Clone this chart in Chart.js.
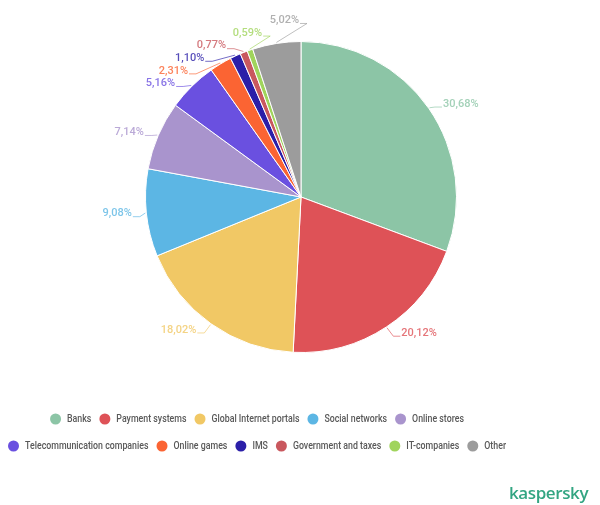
<!DOCTYPE html>
<html lang="en">
<head>
  <meta charset="UTF-8">
  <title>Phishing targets by category</title>
  <script src="https://cdn.jsdelivr.net/npm/chart.js"></script>
  <style>
    body {
      margin: 0;
      background: #fff;
    }
    #wrap {
      position: relative;
      width: 600px;
      height: 505px;
    }
    #logo {
      position: absolute;
      left: 509px;
      top: 481px;
      font-family: "Open Sans", sans-serif;
      font-weight: 600;
      font-size: 17px;
      color: #33a582;
      letter-spacing: -0.4px;
    }
  </style>
</head>
<body>
  <div id="wrap">
    <canvas id="pieChart" width="600" height="505"></canvas>
    <div id="logo">kaspersky</div>
  </div>

  <script>
    const labels = ['Banks', 'Payment systems', 'Global Internet portals', 'Social networks', 'Online stores',
      'Telecommunication companies', 'Online games', 'IMS', 'Government and taxes', 'IT-companies', 'Other'];
    const shares = [30.68, 20.12, 18.02, 9.08, 7.14, 5.16, 2.31, 1.10, 0.77, 0.59, 5.02];
    const colors = ['#8cc5a6', '#de5257', '#f1c865', '#5cb6e4', '#a994cd',
      '#6a50e0', '#fb6433', '#2b1fa8', '#c9585e', '#a0d45c', '#9c9c9c'];

    function fmt(v) {
      return v.toFixed(2).replace('.', ',') + '%';
    }

    // percentage labels outside the pie, with leader lines
    const outsideLabels = {
      id: 'outsideLabels',
      afterDatasetsDraw(chart) {
        const ctx = chart.ctx;
        const meta = chart.getDatasetMeta(0);
        const Ry = 163;
        const Rx = 168;
        const gap = 12.6;
        const items = meta.data.map((arc, i) => {
          const p = arc.getProps(['x', 'y', 'startAngle', 'endAngle', 'outerRadius'], true);
          const mid = (p.startAngle + p.endAngle) / 2;
          return {
            i, cx: p.x, cy: p.y, r: p.outerRadius, mid,
            side: Math.cos(mid) >= 0 ? 1 : -1,
            y: p.y + Ry * Math.sin(mid)
          };
        });

        // spread labels that would overlap
        [1, -1].forEach(side => {
          const group = items.filter(it => it.side === side).sort((a, b) => a.y - b.y);
          for (let n = 0; n < 200; n++) {
            for (let k = 1; k < group.length; k++) {
              const d = group[k].y - group[k - 1].y;
              if (d < gap) {
                const s = (gap - d) / 2;
                group[k - 1].y -= s;
                group[k].y += s;
              }
            }
          }
        });

        ctx.save();
        ctx.font = '500 11px Roboto';
        ctx.textBaseline = 'middle';
        ctx.lineWidth = 1;
        items.forEach(it => {
          const dy = it.y - it.cy;
          const dx = Math.sqrt(Math.max(0, Rx * Rx - dy * dy));
          const tx = it.cx + it.side * dx;
          const ax = it.cx + (it.r + 1) * Math.cos(it.mid);
          const ay = it.cy + (it.r + 1) * Math.sin(it.mid);
          ctx.strokeStyle = colors[it.i];
          ctx.globalAlpha = 0.65;
          ctx.beginPath();
          ctx.moveTo(ax, ay);
          ctx.lineTo(tx + it.side * -6, it.y + 3);
          ctx.lineTo(tx + it.side * 1, it.y + 3);
          ctx.stroke();
          ctx.globalAlpha = 0.8;
          ctx.fillStyle = colors[it.i];
          ctx.textAlign = it.side > 0 ? 'left' : 'right';
          ctx.fillText(fmt(shares[it.i]), tx + it.side * 2, it.y);
        });
        ctx.restore();
      }
    };

    // two-row legend with round markers
    const pieLegend = {
      id: 'pieLegend',
      afterDraw(chart) {
        const ctx = chart.ctx;
        const squeeze = 0.8;
        const maxRow = 520;
        const centerX = 257;
        const rowY = [419, 446];
        ctx.save();
        ctx.font = '500 11px Roboto';
        const widths = labels.map(l => 17 + ctx.measureText(l).width * squeeze);
        const rows = [[]];
        let w = 0;
        labels.forEach((l, i) => {
          const add = widths[i] + (rows[rows.length - 1].length ? 8 : 0);
          if (w + add > maxRow && rows[rows.length - 1].length) {
            rows.push([]);
            w = widths[i];
          } else {
            w += add;
          }
          rows[rows.length - 1].push(i);
        });
        rows.forEach((row, r) => {
          const total = row.reduce((s, i) => s + widths[i], 0) + 8 * (row.length - 1);
          let x = centerX - total / 2;
          const y = rowY[r];
          row.forEach(i => {
            ctx.fillStyle = colors[i];
            ctx.beginPath();
            ctx.arc(x + 5.5, y, 5.5, 0, Math.PI * 2);
            ctx.fill();
            ctx.fillStyle = '#585858';
            ctx.textBaseline = 'middle';
            ctx.save();
            ctx.translate(x + 17, y);
            ctx.scale(squeeze, 1);
            ctx.fillText(labels[i], 0, 0);
            ctx.restore();
            x += widths[i] + 8;
          });
        });
        ctx.restore();
      }
    };

    const ctx = document.getElementById('pieChart').getContext('2d');
    const chart = new Chart(ctx, {
      type: 'pie',
      data: {
        labels: labels,
        datasets: [{
          data: shares,
          backgroundColor: colors,
          borderColor: '#fff',
          borderWidth: 1,
          hoverOffset: 0
        }]
      },
      options: {
        responsive: false,
        animation: false,
        layout: {
          padding: { top: 41, bottom: 152, left: 2, right: 0 }
        },
        plugins: {
          legend: { display: false },
          tooltip: { enabled: false }
        }
      },
      plugins: [outsideLabels, pieLegend]
    });
  </script>
</body>
</html>
